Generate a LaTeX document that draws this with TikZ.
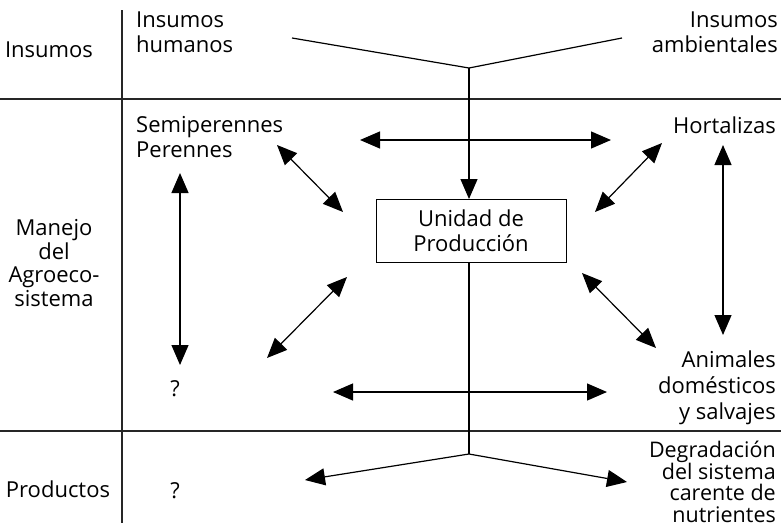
\documentclass[tikz,border=0pt]{standalone}
\usepackage{fontspec}
\setmainfont{Open Sans}
\usetikzlibrary{arrows.meta, positioning, calc}
\tikzset{
  caption/.style = {
    inner sep=0pt,
    font=\fontsize{22}{25}\selectfont,
  },
  rowTitle/.style = {
    caption,
    align=center,
  },
  leftText/.style = {
    caption,
    align=left,
    anchor=west,
  },
  rightText/.style = {
    caption,
    align=right,
    anchor=east,
  },
  unit/.style = {
    draw,
    line width=1pt,
    align=center,
    minimum width=190pt,
    minimum height=63pt,
    inner sep=0pt,
    font=\fontsize{22}{25}\selectfont,
  },
  divider/.style = {
    line width=1.3pt,
    draw=black!85,
  },
  flow/.style = {
    line width=1.2pt,
  },
}

\begin{document}
\begin{tikzpicture}[
  x=1pt,
  y=-1pt,
  >={Triangle[length=20pt, width=17pt]},
  both/.style = {flow, <->},
  feed/.style = {flow, ->},
]
\useasboundingbox (0,0) rectangle (781,530);

\node(Insumos)[rowTitle] at (49,50) {Insumos};
\node(Manejo)[rowTitle, font=\fontsize{22}{23.5}\selectfont] at (54,263) {Manejo\\del\\Agroeco-\\sistema};
\node(Productos)[rowTitle] at (58,489) {Productos};

\node(Humanos)[leftText] at (136,32) {Insumos\\humanos};
\node(Ambientales)[rightText] at (778,32) {Insumos\\ambientales};
\node(Semiperennes)[leftText] at (136,137) {Semiperennes\\Perennes};
\node(Hortalizas)[rightText] at (776,125) {Hortalizas};
\node(Animales)[rightText, font=\fontsize{22}{26}\selectfont] at (776,388) {Animales\\domésticos\\y salvajes};
\node(Degradacion)[rightText, font=\fontsize{21.5}{21.5}\selectfont] at (776,482) {Degradación\\del sistema\\carente de\\nutrientes};
\node(QuestionTop)[caption] at (175,389) {?};
\node(QuestionBottom)[caption] at (175,491) {?};

\node(Unidad)[unit] at (471,231) {Unidad de\\Producción};

\coordinate (JoinTop) at (469,68);
\coordinate (HumanosEnd) at (292,38);
\coordinate (AmbientalesEnd) at (622,38);
\coordinate (JoinBottom) at (469,454);
\coordinate (ProductosEnd) at (305,480);
\coordinate (DegradacionEnd) at (627,482);

\coordinate (TopLeft) at (360,140);
\coordinate (TopRight) at (611,140);
\coordinate (LowLeft) at (333,392);
\coordinate (LowRight) at (607,392);
\coordinate (SemiDown) at (180,173);
\coordinate (QuestionUp) at (180,365);
\coordinate (HortaDown) at (723,145);
\coordinate (AnimalesUp) at (723,335);
\coordinate (SemiDiag) at (277,145);
\coordinate (UnidadNW) at (343,212);
\coordinate (UnidadNE) at (595,212);
\coordinate (HortaDiag) at (662,143);
\coordinate (QuestionDiag) at (267,358);
\coordinate (UnidadSW) at (347,277);
\coordinate (UnidadSE) at (582,273);
\coordinate (AnimalesDiag) at (656,348);

\draw[divider] (0,99) -- (781,99);
\draw[divider] (0,431) -- (781,431);
\draw[divider] (122,10) -- (122,523);

\draw[flow] (HumanosEnd) -- (JoinTop) -- (AmbientalesEnd);
\draw[feed] (JoinTop) -- (Unidad.north -| JoinTop);
\draw[flow] (Unidad.south -| JoinBottom) -- (JoinBottom);
\draw[feed] (JoinBottom) -- (ProductosEnd);
\draw[feed] (JoinBottom) -- (DegradacionEnd);

\draw[both] (TopLeft) -- (TopRight);
\draw[both] (LowLeft) -- (LowRight);
\draw[both] (SemiDown) -- (QuestionUp);
\draw[both] (HortaDown) -- (AnimalesUp);
\draw[both] (SemiDiag) -- (UnidadNW);
\draw[both] (UnidadNE) -- (HortaDiag);
\draw[both] (QuestionDiag) -- (UnidadSW);
\draw[both] (UnidadSE) -- (AnimalesDiag);

\end{tikzpicture}
\end{document}
